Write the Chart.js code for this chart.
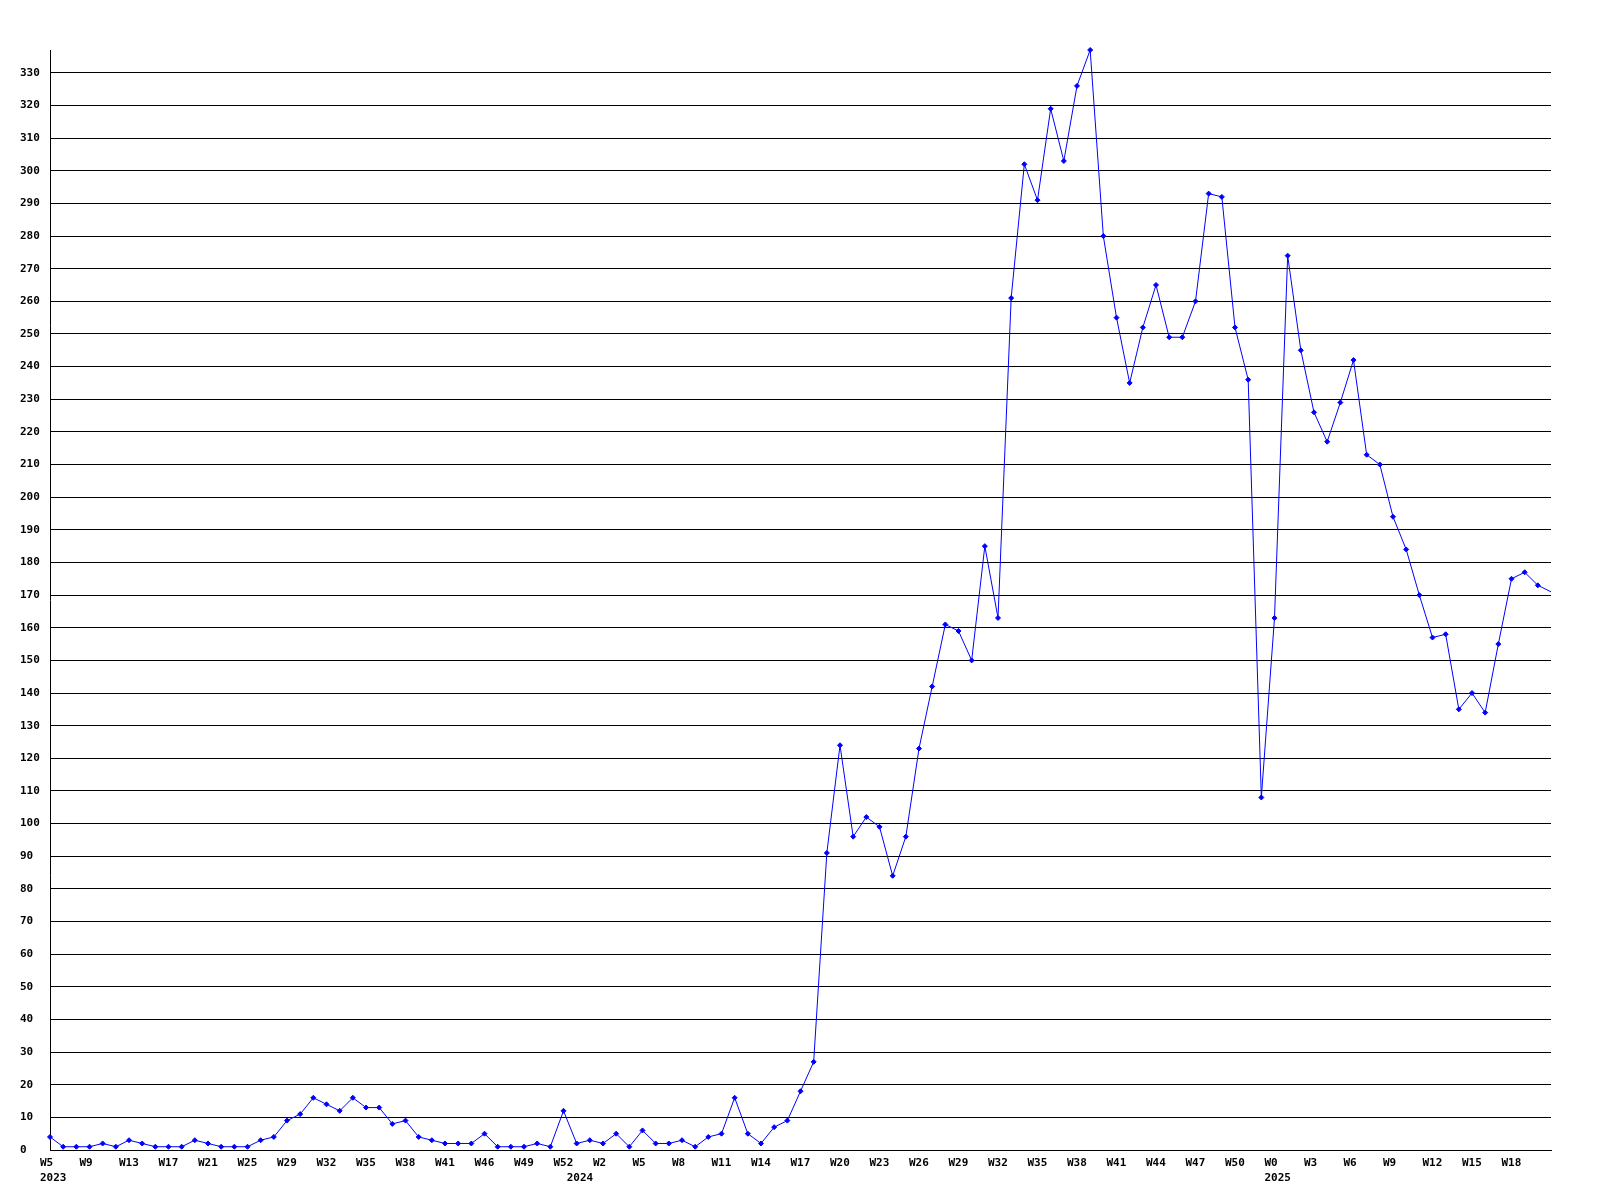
<!DOCTYPE html>
<html lang="en">
<head>
    <meta charset="UTF-8">
    <title>Weekly count</title>
    <script src="https://cdn.jsdelivr.net/npm/chart.js"></script>
    <style>
        body {
            margin: 0;
            background: #ffffff;
        }
        .chart-container {
            width: 1600px;
            height: 1200px;
        }
    </style>
</head>
<body>
    <div class="chart-container">
        <canvas id="weekChart"></canvas>
    </div>

    <script>
        // one label every third point
        const weekTicks = [
            "W5", "W9", "W13", "W17", "W21", "W25", "W29", "W32", "W35", "W38", "W41", "W46", "W49", "W52",
            "W2", "W5", "W8", "W11", "W14", "W17", "W20", "W23", "W26", "W29", "W32", "W35", "W38", "W41",
            "W44", "W47", "W50",
            "W0", "W3", "W6", "W9", "W12", "W15", "W18"
        ];
        const yearTicks = ["2023", "2024", "2025"];
        const yearStart = [0, 40, 93];

        const values = [
            4, 1, 1, 1, 2, 1, 3, 2, 1, 1, 1, 3, 2, 1, 1, 1, 3, 4, 9, 11, 16, 14, 12, 16, 13, 13, 8, 9, 4, 3, 2,
            2, 2, 5, 1, 1, 1, 2, 1, 12, 2, 3, 2, 5, 1, 6, 2, 2, 3, 1, 4, 5, 16, 5, 2, 7, 9, 18, 27,
            91, 124, 96, 102, 99, 84, 96, 123, 142, 161, 159, 150, 185, 163,
            261, 302, 291, 319, 303, 326, 337, 280, 255, 235, 252, 265, 249, 249, 260, 293, 292, 252, 236,
            108, 163, 274, 245, 226, 217, 229, 242, 213, 210, 194, 184, 170, 157, 158, 135, 140, 134, 155, 175, 177, 173, 171
        ];

        const labels = [];
        for (let i = 0; i < values.length; i++) {
            const week = i % 3 === 0 && weekTicks[i / 3] ? weekTicks[i / 3] : "";
            const y = yearStart.indexOf(i);
            labels.push(y >= 0 ? [week, yearTicks[y]] : week);
        }

        const tickFont = { family: "DejaVu Sans Mono", size: 11, weight: "bold", lineHeight: 1.42 };

        new Chart(document.getElementById("weekChart"), {
            type: "line",
            data: {
                labels: labels,
                datasets: [{
                    data: values,
                    borderColor: "#0000ff",
                    borderWidth: 1,
                    tension: 0,
                    clip: false,
                    pointStyle: "rectRot",
                    pointRadius: ctx => ctx.dataIndex === values.length - 1 ? 0 : 2.5,
                    pointBackgroundColor: "#0000ff",
                    pointBorderColor: "#0000ff",
                    pointBorderWidth: 1
                }]
            },
            options: {
                responsive: true,
                maintainAspectRatio: false,
                animation: false,
                layout: {
                    padding: { left: 20, top: 50, right: 49, bottom: 0 }
                },
                plugins: {
                    legend: { display: false },
                    tooltip: { enabled: false }
                },
                scales: {
                    x: {
                        offset: false,
                        grid: { display: false, drawTicks: false },
                        border: { display: true, color: "#000000", width: 1 },
                        ticks: {
                            autoSkip: false,
                            maxRotation: 0,
                            minRotation: 0,
                            align: "start",
                            labelOffset: -10,
                            padding: 5,
                            color: "#000000",
                            font: tickFont
                        },
                        afterFit: scale => { scale.height = 50; }
                    },
                    y: {
                        min: 0,
                        max: 337,
                        grid: { color: "#000000", lineWidth: 1, drawTicks: false },
                        border: { display: true, color: "#000000", width: 1 },
                        ticks: {
                            stepSize: 10,
                            crossAlign: "far",
                            padding: 10,
                            color: "#000000",
                            font: tickFont
                        },
                        afterBuildTicks: scale => {
                            scale.ticks = scale.ticks.filter(t => t.value % 10 === 0);
                        },
                        afterFit: scale => { scale.width = 30; }
                    }
                }
            }
        });
    </script>
</body>
</html>
